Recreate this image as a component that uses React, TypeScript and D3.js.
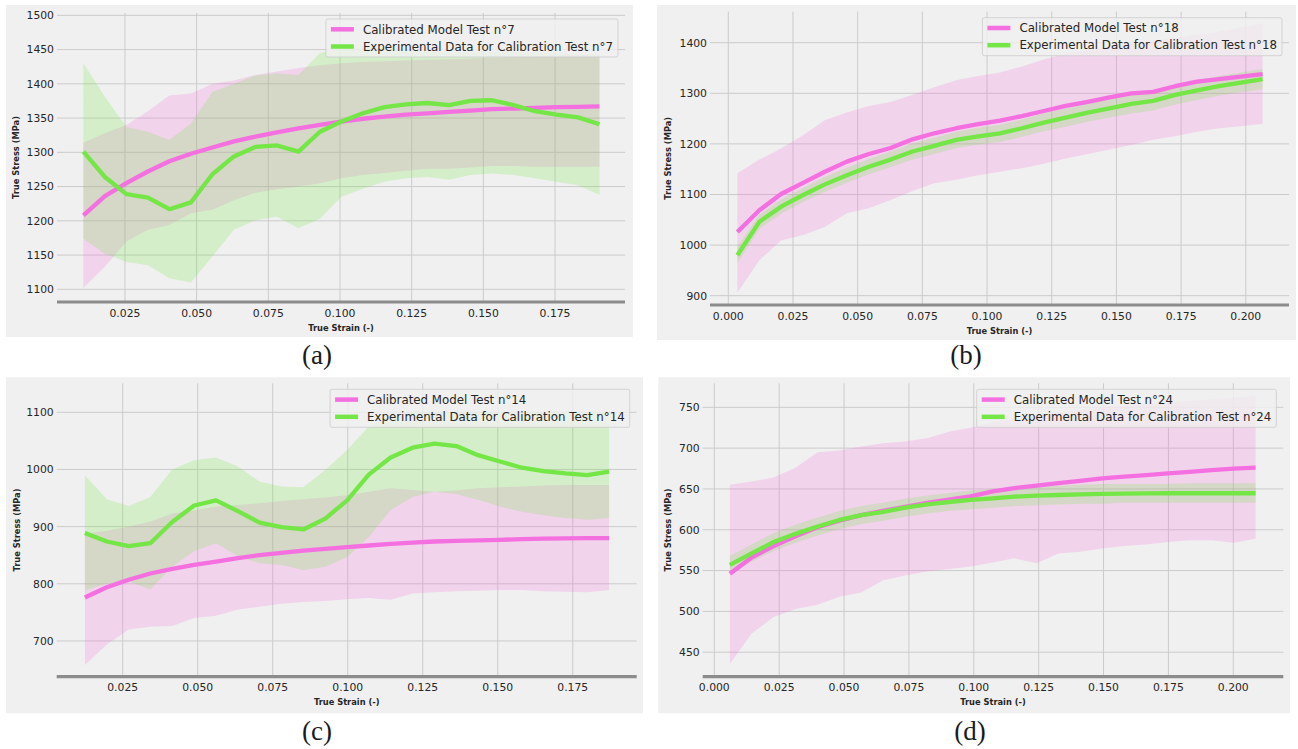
import React, { useEffect, useRef } from "react";
import * as d3 from "d3";

// ---------- Test n°7 ----------
const strainA = [0.0105, 0.018, 0.0255, 0.033, 0.0405, 0.048, 0.0555, 0.063, 0.0705, 0.078, 0.0855, 0.093, 0.1005, 0.108, 0.1155, 0.123, 0.1305, 0.138, 0.1455, 0.153, 0.1605, 0.168, 0.1755, 0.183, 0.1905];
const modelA = [1208, 1236, 1255, 1272, 1287, 1298, 1307, 1316, 1323, 1329, 1335, 1340, 1345, 1349, 1352, 1355, 1357, 1359, 1361, 1363, 1364, 1365, 1366, 1366.5, 1367];
const modelLowA = [1102, 1133, 1170, 1187, 1194, 1211, 1216, 1230, 1241, 1246, 1250, 1255, 1262, 1267, 1270, 1273, 1276, 1276, 1278, 1280, 1280, 1279, 1279, 1279, 1279];
const modelHighA = [1314, 1328, 1340, 1360, 1383, 1386, 1400, 1405, 1413, 1418, 1423, 1427, 1430, 1432, 1433, 1434, 1435, 1436, 1437, 1438, 1439, 1440, 1441, 1442, 1442];
const expA = [1301, 1264, 1239, 1234, 1217, 1227, 1268, 1294, 1308, 1310, 1301, 1330, 1345, 1357, 1366, 1370, 1372, 1369, 1375, 1376, 1369, 1360, 1355, 1351, 1341];
const expLowA = [1174, 1152, 1140, 1135, 1116, 1110, 1148, 1187, 1201, 1206, 1189, 1203, 1235, 1247, 1257, 1262, 1264, 1260, 1267, 1269, 1267, 1262, 1257, 1252, 1238];
const expHighA = [1430, 1381, 1337, 1330, 1318, 1342, 1388, 1400, 1412, 1415, 1413, 1445, 1452, 1455, 1452, 1450, 1448, 1446, 1446, 1447, 1447, 1446, 1445, 1444, 1443];
const xTicksA = [0.025, 0.05, 0.075, 0.1, 0.125, 0.15, 0.175];
const yTicksA = [1100, 1150, 1200, 1250, 1300, 1350, 1400, 1450, 1500];

// ---------- Test n°18 ----------
const strainB = [0.0035, 0.012, 0.0204, 0.0289, 0.0373, 0.0458, 0.0543, 0.0627, 0.0712, 0.0796, 0.0881, 0.0966, 0.105, 0.1135, 0.1219, 0.1304, 0.1389, 0.1473, 0.1558, 0.1642, 0.1727, 0.1812, 0.1896, 0.1981, 0.2065];
const modelB = [1026, 1069, 1101, 1123, 1145, 1165, 1180, 1192, 1209, 1221, 1231, 1239, 1246, 1255, 1265, 1275, 1283, 1292, 1300, 1303, 1314, 1323, 1328, 1333, 1338];
const modelLowB = [906, 970, 1009, 1020, 1036, 1063, 1073, 1089, 1107, 1122, 1129, 1138, 1145, 1152, 1161, 1171, 1180, 1189, 1198, 1208, 1215, 1224, 1231, 1235, 1240];
const modelHighB = [1142, 1169, 1191, 1217, 1247, 1262, 1275, 1283, 1297, 1312, 1326, 1334, 1341, 1353, 1367, 1378, 1385, 1392, 1398, 1404, 1410, 1416, 1422, 1430, 1438];
const expB = [980, 1046, 1076, 1099, 1120, 1138, 1155, 1169, 1185, 1196, 1208, 1215, 1221, 1231, 1242, 1252, 1262, 1270, 1279, 1285, 1297, 1306, 1314, 1321, 1328];
const expLowB = [964, 1032, 1062, 1085, 1105, 1123, 1140, 1154, 1169, 1180, 1192, 1199, 1204, 1214, 1225, 1234, 1244, 1252, 1260, 1266, 1278, 1287, 1295, 1302, 1308];
const expHighB = [996, 1060, 1090, 1113, 1135, 1153, 1170, 1185, 1201, 1212, 1224, 1232, 1238, 1248, 1260, 1270, 1280, 1289, 1298, 1304, 1316, 1326, 1334, 1341, 1348];
const xTicksB = [0, 0.025, 0.05, 0.075, 0.1, 0.125, 0.15, 0.175, 0.2];
const yTicksB = [900, 1000, 1100, 1200, 1300, 1400];

// ---------- Test n°14 ----------
const strainC = [0.0124, 0.0197, 0.027, 0.0342, 0.0415, 0.0488, 0.0561, 0.0634, 0.0706, 0.0779, 0.0852, 0.0925, 0.0998, 0.107, 0.1143, 0.1216, 0.1289, 0.1362, 0.1434, 0.1507, 0.158, 0.1653, 0.1726, 0.1798, 0.1871];
const modelC = [776, 794, 807, 818, 826, 833, 839, 845, 850, 854, 858, 861, 864, 867, 870, 872, 874, 875, 876, 877, 878, 879, 879.5, 880, 880];
const modelLowC = [658, 694, 720, 725, 726, 740, 744, 755, 760, 765, 768, 770, 773, 775, 772, 783, 785, 787, 788, 789, 789, 787, 786, 785, 789];
const modelHighC = [888, 893, 900, 909, 923, 928, 935, 938, 941, 945, 948, 951, 955, 961, 967, 964, 961, 963, 967, 969, 970, 972, 973, 973, 973];
const expC = [889, 874, 866, 871, 908, 937, 946, 927, 907, 899, 895, 914, 946, 991, 1021, 1038, 1045, 1041, 1025, 1014, 1003, 997, 993, 990, 996];
const expLowC = [789, 800, 804, 790, 830, 857, 871, 848, 836, 833, 824, 830, 847, 882, 929, 952, 961, 957, 947, 935, 926, 920, 915, 912, 915];
const expHighC = [990, 948, 936, 952, 1000, 1016, 1021, 1005, 979, 970, 969, 999, 1034, 1075, 1095, 1100, 1100, 1100, 1100, 1100, 1100, 1100, 1100, 1100, 1100];
const xTicksC = [0.025, 0.05, 0.075, 0.1, 0.125, 0.15, 0.175];
const yTicksC = [700, 800, 900, 1000, 1100];

// ---------- Test n°24 ----------
const strainD = [0.006, 0.0144, 0.0229, 0.0313, 0.0398, 0.0482, 0.0566, 0.0651, 0.0735, 0.082, 0.0904, 0.0988, 0.1073, 0.1157, 0.1242, 0.1326, 0.141, 0.1495, 0.1579, 0.1664, 0.1748, 0.1832, 0.1917, 0.2001, 0.2086];
const modelD = [546, 566, 580, 592, 603, 611, 618, 623, 628, 633, 637, 641, 647, 651, 654, 657, 660, 663, 665, 667, 669, 671, 673, 675, 676];
const modelLowD = [436, 473, 493, 503, 508, 518, 523, 538, 544, 549, 552, 555, 560, 565, 559, 571, 573, 577, 580, 582, 585, 587, 587, 584, 589];
const modelHighD = [655, 659, 664, 676, 695, 697, 702, 706, 708, 712, 720, 725, 732, 736, 740, 744, 747, 750, 752, 754, 756, 758, 760, 762, 764];
const expD = [557, 571, 585, 595, 604, 612, 618, 622, 627, 631, 634, 636.5, 638.5, 640.5, 641.8, 642.6, 643.3, 644, 644.3, 644.6, 644.7, 644.7, 644.7, 644.7, 644.7];
const expLowD = [546, 561, 574, 584, 593, 601, 607, 611, 616, 620, 623, 625, 627, 629, 630, 631, 632, 632, 633, 633, 633, 633, 633, 633, 633];
const expHighD = [568, 582, 596, 606, 615, 623, 629, 633, 638, 642, 645, 648, 650, 652, 653, 654, 655, 656, 656, 656, 656, 657, 657, 657, 657];
const xTicksD = [0, 0.025, 0.05, 0.075, 0.1, 0.125, 0.15, 0.175, 0.2];
const yTicksD = [450, 500, 550, 600, 650, 700, 750];

const PINK = "#f46fe0";
const GREEN = "#74e646";
const BG = "#f0f0f0";
const GRID = "#cbcbcb";
const SANS = "'DejaVu Sans', sans-serif";

type Panel = {
  caption: string;
  test: number;
  strain: number[];
  model: number[];
  modelLow: number[];
  modelHigh: number[];
  exp: number[];
  expLow: number[];
  expHigh: number[];
  xTicks: number[];
  yTicks: number[];
  frame: { x0: number; y0: number; x1: number; y1: number };
  plot: { left: number; right: number; top: number; bottom: number };
  xDomain: [number, number];
  yDomain: [number, number];
  yLabelX: number;
  captionPos: [number, number];
};

const panels: Panel[] = [
  {
    caption: "(a)", test: 7,
    strain: strainA, model: modelA, modelLow: modelLowA, modelHigh: modelHighA,
    exp: expA, expLow: expLowA, expHigh: expHighA, xTicks: xTicksA, yTicks: yTicksA,
    frame: { x0: 6, y0: 5, x1: 633, y1: 337 },
    plot: { left: 57, right: 625, top: 13, bottom: 302 },
    xDomain: [0.0013, 0.1994], yDomain: [1081.5, 1503.4],
    yLabelX: 16, captionPos: [317, 364],
  },
  {
    caption: "(b)", test: 18,
    strain: strainB, model: modelB, modelLow: modelLowB, modelHigh: modelHighB,
    exp: expB, expLow: expLowB, expHigh: expHighB, xTicks: xTicksB, yTicks: yTicksB,
    frame: { x0: 657, y0: 5, x1: 1296, y1: 340 },
    plot: { left: 710, right: 1289, top: 11.7, bottom: 305 },
    xDomain: [-0.00707, 0.2167], yDomain: [881.6, 1461.3],
    yLabelX: 667.7, captionPos: [966, 364],
  },
  {
    caption: "(c)", test: 14,
    strain: strainC, model: modelC, modelLow: modelLowC, modelHigh: modelHighC,
    exp: expC, expLow: expLowC, expHigh: expHighC, xTicks: xTicksC, yTicks: yTicksC,
    frame: { x0: 6, y0: 377.3, x1: 643, y1: 713.3 },
    plot: { left: 56.7, right: 636.7, top: 383.3, bottom: 676.7 },
    xDomain: [0.003, 0.1963], yDomain: [637.5, 1150.7],
    yLabelX: 16.7, captionPos: [317, 740],
  },
  {
    caption: "(d)", test: 24,
    strain: strainD, model: modelD, modelLow: modelLowD, modelHigh: modelHighD,
    exp: expD, expLow: expLowD, expHigh: expHighD, xTicks: xTicksD, yTicks: yTicksD,
    frame: { x0: 658.3, y0: 377.3, x1: 1290, y1: 713.3 },
    plot: { left: 702.7, right: 1283.3, top: 383.3, bottom: 676.7 },
    xDomain: [-0.00447, 0.21927], yDomain: [420, 779.4],
    yLabelX: 668.3, captionPos: [970, 740],
  },
];

function drawPanel(root: d3.Selection<SVGGElement, unknown, null, undefined>, p: Panel, idx: number) {
  const g = root.append("g");
  const { plot, frame } = p;

  g.append("rect")
    .attr("x", frame.x0).attr("y", frame.y0)
    .attr("width", frame.x1 - frame.x0).attr("height", frame.y1 - frame.y0)
    .attr("fill", BG);

  const x = d3.scaleLinear().domain(p.xDomain).range([plot.left, plot.right]);
  const y = d3.scaleLinear().domain(p.yDomain).range([plot.bottom, plot.top]);

  const clipId = `clip-${idx}`;
  g.append("clipPath").attr("id", clipId)
    .append("rect")
    .attr("x", plot.left).attr("y", plot.top)
    .attr("width", plot.right - plot.left).attr("height", plot.bottom - plot.top);

  // grid
  const grid = g.append("g").attr("stroke", GRID).attr("stroke-width", 1);
  grid.selectAll("line.h").data(p.yTicks).join("line")
    .attr("x1", plot.left).attr("x2", plot.right)
    .attr("y1", (d) => y(d)).attr("y2", (d) => y(d));
  grid.selectAll("line.v").data(p.xTicks).join("line")
    .attr("y1", plot.top).attr("y2", plot.bottom)
    .attr("x1", (d) => x(d)).attr("x2", (d) => x(d));

  const idxs = d3.range(p.strain.length);
  const body = g.append("g").attr("clip-path", `url(#${clipId})`);

  const band = (lo: number[], hi: number[]) =>
    d3.area<number>().x((i) => x(p.strain[i])).y0((i) => y(lo[i])).y1((i) => y(hi[i]))(idxs);
  const curve = (v: number[]) =>
    d3.line<number>().x((i) => x(p.strain[i])).y((i) => y(v[i]))(idxs);

  body.append("path").attr("d", band(p.modelLow, p.modelHigh)!).attr("fill", PINK).attr("fill-opacity", 0.22);
  body.append("path").attr("d", band(p.expLow, p.expHigh)!).attr("fill", GREEN).attr("fill-opacity", 0.22);
  body.append("path").attr("d", curve(p.model)!).attr("fill", "none").attr("stroke", PINK)
    .attr("stroke-width", 4.3).attr("stroke-linejoin", "round");
  body.append("path").attr("d", curve(p.exp)!).attr("fill", "none").attr("stroke", GREEN)
    .attr("stroke-width", 4.3).attr("stroke-linejoin", "round");

  // heavy base line
  g.append("line")
    .attr("x1", plot.left).attr("x2", plot.right)
    .attr("y1", plot.bottom).attr("y2", plot.bottom)
    .attr("stroke", "#8c8c8c").attr("stroke-width", 3.2);

  // tick labels
  g.append("g").selectAll("text").data(p.yTicks).join("text")
    .attr("x", plot.left - 3).attr("y", (d) => y(d)).attr("dy", "0.36em")
    .attr("text-anchor", "end").attr("font-family", SANS).attr("font-size", 10.8)
    .attr("fill", "#262626").text((d) => d3.format("d")(d));
  g.append("g").selectAll("text").data(p.xTicks).join("text")
    .attr("x", (d) => x(d)).attr("y", plot.bottom + 14.5)
    .attr("text-anchor", "middle").attr("font-family", SANS).attr("font-size", 10.8)
    .attr("fill", "#262626").text((d) => d3.format(".3f")(d));

  // axis titles
  g.append("text")
    .attr("transform", `translate(${p.yLabelX},${(plot.top + plot.bottom) / 2}) rotate(-90)`)
    .attr("dy", "0.36em").attr("text-anchor", "middle")
    .attr("font-family", SANS).attr("font-weight", "bold").attr("font-size", 8.3)
    .attr("fill", "#262626").text("True Stress (MPa)");
  g.append("text")
    .attr("x", (plot.left + plot.right) / 2).attr("y", plot.bottom + 28.5)
    .attr("text-anchor", "middle")
    .attr("font-family", SANS).attr("font-weight", "bold").attr("font-size", 8.3)
    .attr("fill", "#262626").text("True Strain (-)");

  // legend
  const entries = [
    { label: `Calibrated Model Test n°${p.test}`, color: PINK },
    { label: `Experimental Data for Calibration Test n°${p.test}`, color: GREEN },
  ];
  const leg = g.append("g");
  const box = leg.append("rect");
  const texts = leg.selectAll("text").data(entries).join("text")
    .attr("font-family", SANS).attr("font-size", 11.8).attr("fill", "#262626")
    .text((d) => d.label);
  let maxW = 0;
  texts.each(function () {
    maxW = Math.max(maxW, (this as SVGTextElement).getComputedTextLength());
  });
  const boxW = 37 + maxW + 5;
  const boxH = 38;
  const bx = plot.right - 7 - boxW;
  const by = plot.top + 6;
  box.attr("x", bx).attr("y", by).attr("width", boxW).attr("height", boxH)
    .attr("rx", 2).attr("fill", BG).attr("fill-opacity", 0.8)
    .attr("stroke", "#cccccc").attr("stroke-opacity", 0.8).attr("stroke-width", 1);
  const rowY = [by + 10.3, by + 27.5];
  leg.selectAll("line").data(entries).join("line")
    .attr("x1", bx + 5).attr("x2", bx + 28)
    .attr("y1", (_d, i) => rowY[i]).attr("y2", (_d, i) => rowY[i])
    .attr("stroke", (d) => d.color).attr("stroke-width", 4.5);
  texts.attr("x", bx + 37).attr("y", (_d, i) => rowY[i]).attr("dy", "0.36em");

  // caption
  root.append("text")
    .attr("x", p.captionPos[0]).attr("y", p.captionPos[1])
    .attr("text-anchor", "middle")
    .attr("font-family", "'Liberation Serif', 'Times New Roman', serif").attr("font-size", 27)
    .attr("fill", "#1a1a1a").text(p.caption);
}

export default function App() {
  const ref = useRef<SVGSVGElement>(null);
  useEffect(() => {
    const svg = d3.select(ref.current);
    svg.selectAll("*").remove();
    const root = svg.append("g");
    panels.forEach((p, i) => drawPanel(root as any, p, i));
  }, []);
  return (
    <div style={{ position: "absolute", left: 0, top: 0, background: "#ffffff" }}>
      <svg ref={ref} width={1298} height={749} style={{ display: "block", background: "#ffffff" }} />
    </div>
  );
}
